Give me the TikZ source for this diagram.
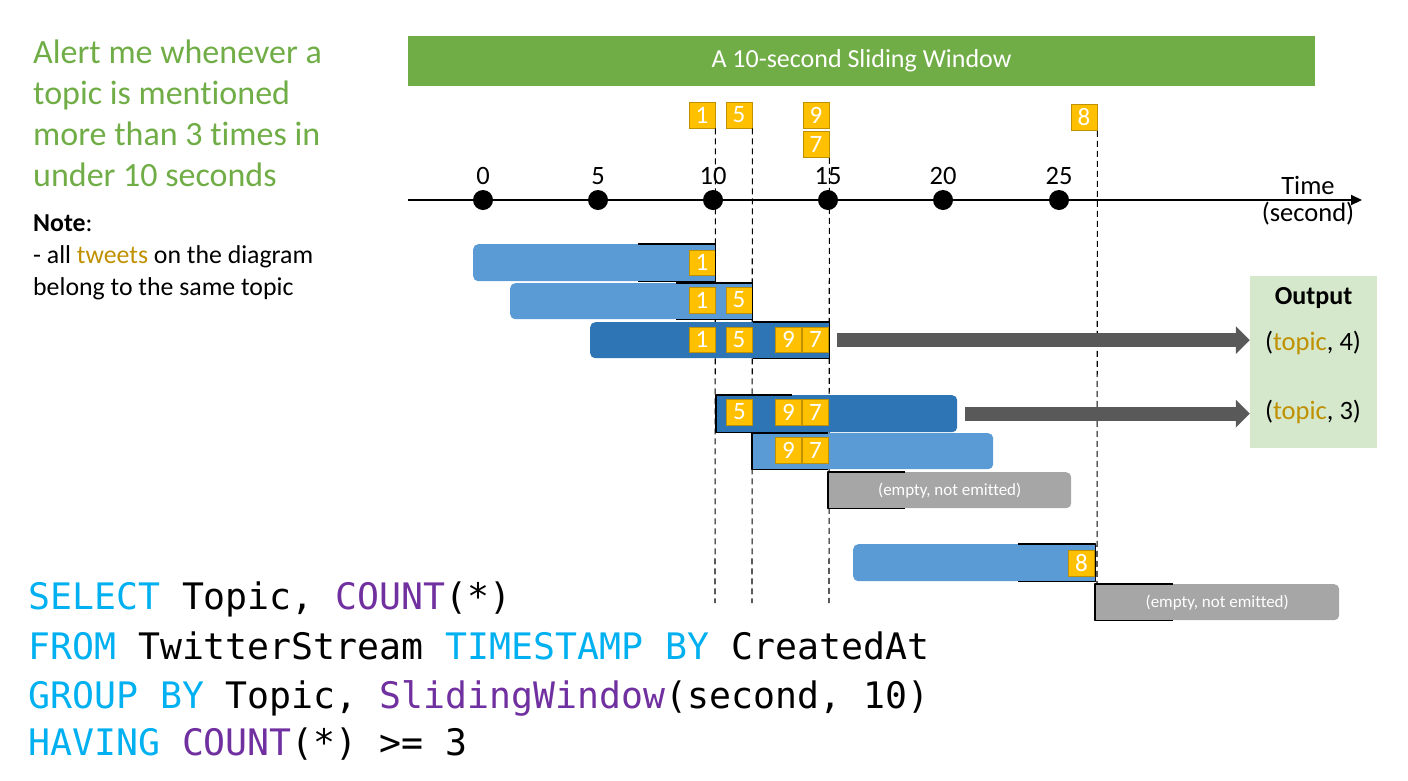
\documentclass[tikz,border=0pt]{standalone}
\usepackage{fontspec}
\setmainfont{Carlito}[Ligatures=NoCommon]
\newfontfamily\codefont{DejaVu Sans Mono}
\usetikzlibrary{arrows.meta}
\definecolor{grn}{HTML}{70AD47}
\definecolor{lb}{HTML}{5B9BD5}
\definecolor{db}{HTML}{2E75B6}
\definecolor{gry}{HTML}{A6A6A6}
\definecolor{ylw}{HTML}{FFC000}
\definecolor{ylwb}{HTML}{BF9000}
\definecolor{gold}{HTML}{BF9000}
\definecolor{arr}{HTML}{595959}
\definecolor{outbg}{HTML}{D6E8CB}
\definecolor{kw}{HTML}{00B0F0}
\definecolor{fn}{HTML}{7030A0}
\tikzset{
  tweet/.style={fill=ylw, draw=ylwb, line width=0.8pt, text=white, minimum size=26pt, inner sep=0pt, font=\fontsize{25}{25}\selectfont},
  win/.style={rounded corners=5pt, minimum height=37pt, inner sep=0pt, anchor=north west},
  brk/.style={draw=black, line width=1.8pt, line join=round},
  vdash/.style={black, line width=1.1pt, dash pattern=on 6pt off 4pt},
  tdot/.style={circle, fill=black, minimum size=20pt, inner sep=0pt},
  ticklab/.style={font=\fontsize{26.5}{26.5}\selectfont},
  emp/.style={text=white, font=\fontsize{17}{17}\selectfont},
  bigarrow/.style={arr, line width=14pt, -{Triangle[length=14pt,width=27pt]}},
  green/.style={text=grn, anchor=base west, inner sep=0pt, font=\fontsize{34}{34}\selectfont},
  note/.style={anchor=base west, inner sep=0pt, font=\fontsize{25.8}{25.8}\selectfont},
  code/.style={anchor=base west, inner sep=0pt, font=\codefont\fontsize{36.5}{36.5}\selectfont},
  outtxt/.style={font=\fontsize{26.5}{26.5}\selectfont, inner sep=0pt}
}
\begin{document}
\begin{tikzpicture}[x=1pt,y=-1pt]
\useasboundingbox (0,0) rectangle (1408,780);

% left texts
\node[green] (g1) at (33,63) {Alert me whenever a};
\node[green] (g2) at (33,104) {topic is mentioned};
\node[green] (g3) at (33,145) {more than 3 times in};
\node[green] (g4) at (33,186.5) {under 10 seconds};
\node[note] (n1) at (33,231.5) {\textbf{Note}:};
\node[note] (n2) at (33,263) {- all \textcolor{gold}{tweets} on the diagram};
\node[note] (n3) at (33,295) {belong to the same topic};

% title bar
\node[fill=grn, minimum width=907pt, minimum height=50pt, text=white, font=\fontsize{26}{26}\selectfont] (title) at (861.5,61) {A 10-second Sliding Window};

% top tweets
\node[tweet] (a1) at (702,115) {1};
\node[tweet] (a5) at (739,115) {5};
\node[tweet] (a9) at (816,115) {9};
\node[tweet] (a7) at (816,144.5) {7};
\node[tweet] (a8) at (1084,117.5) {8};

% dashed lines
\coordinate (d1) at (715,603);
\coordinate (d5) at (752,603);
\coordinate (d7) at (829,603);
\coordinate (d8) at (1097,586);
\draw[vdash] (a1.south east) -- (d1);
\draw[vdash] (a5.south east) -- (d5);
\draw[vdash] (a7.south east) -- (d7);
\draw[vdash] (a8.south east) -- (d8);

% time axis
\coordinate (axL) at (408,200);
\coordinate (axR) at (1362,200);
\draw[line width=2pt, -{Triangle[length=11pt,width=10pt]}] (axL) -- (axR);
\foreach \i/\x in {0/483,5/598,10/713,15/828,20/943,25/1059}{
  \node[tdot] (p\i) at (\x,200) {};
  \node[ticklab] (l\i) at (\x,176) {\i};
}
\node[ticklab] (tl1) at (1308,185) {Time};
\node[ticklab] (tl2) at (1308,214) {(second)};

% windows
\node[win, fill=lb, minimum width=242pt] (w1) at (473,244) {};
\node[win, fill=lb, minimum width=242pt, minimum height=36pt] (w2) at (510,283) {};
\node[win, fill=db, minimum width=239pt, minimum height=36pt] (w3) at (590,322) {};
\node[win, fill=db, minimum width=241pt] (w4) at (716,395) {};
\node[win, fill=lb, minimum width=241pt, minimum height=36pt] (w5) at (752,433) {};
\node[win, fill=gry, minimum width=243pt, minimum height=36pt] (w6) at (828,472) {};
\node[win, fill=lb, minimum width=242pt] (w7) at (853,544) {};
\node[win, fill=gry, minimum width=244pt, minimum height=36pt] (w8) at (1095,584) {};

% square ends under brackets
\fill[lb] ([xshift=-12pt]w1.north east) rectangle (w1.south east);
\fill[lb] ([xshift=-12pt]w2.north east) rectangle (w2.south east);
\fill[db] ([xshift=-12pt]w3.north east) rectangle (w3.south east);
\fill[db] (w4.north west) rectangle ([xshift=12pt]w4.south west);
\fill[lb] (w5.north west) rectangle ([xshift=12pt]w5.south west);
\fill[gry] (w6.north west) rectangle ([xshift=12pt]w6.south west);
\fill[lb] ([xshift=-12pt]w7.north east) rectangle (w7.south east);
\fill[gry] (w8.north west) rectangle ([xshift=12pt]w8.south west);

% tweets in windows
\node[tweet, minimum height=25pt] (b1) at (702,262.5) {1};
\node[tweet] (c1) at (702,300) {1};
\node[tweet] (c5) at (739,300) {5};
\node[tweet, minimum height=25pt] (e1) at (702,339.5) {1};
\node[tweet, minimum height=25pt] (e5) at (739,339.5) {5};
\node[tweet, minimum height=25pt] (e9) at (788.5,339.5) {9};
\node[tweet, minimum height=25pt] (e7) at (815.5,339.5) {7};
\node[tweet] (f5) at (739.5,412) {5};
\node[tweet] (f9) at (788.5,412) {9};
\node[tweet] (f7) at (815.5,412) {7};
\node[tweet] (h9) at (788.5,450) {9};
\node[tweet] (h7) at (815.5,450) {7};
\node[tweet] (k8) at (1081.5,563) {8};

\node[emp] (x6) at (w6.center) {(empty, not emitted)};
\node[emp] (x8) at (w8.center) {(empty, not emitted)};

% brackets
\draw[brk] ([xshift=-77pt]w1.north east) -- (w1.north east) -- (w1.south east) -- ([xshift=-77pt]w1.south east);
\draw[brk] ([xshift=-76pt]w2.north east) -- (w2.north east) -- (w2.south east) -- ([xshift=-76pt]w2.south east);
\draw[brk] ([xshift=-76pt]w3.north east) -- (w3.north east) -- (w3.south east) -- ([xshift=-76pt]w3.south east);
\draw[brk] ([xshift=76pt]w4.north west) -- (w4.north west) -- (w4.south west) -- ([xshift=76pt]w4.south west);
\draw[brk] ([xshift=76pt]w5.north west) -- (w5.north west) -- (w5.south west) -- ([xshift=76pt]w5.south west);
\draw[brk] ([xshift=77pt]w6.north west) -- (w6.north west) -- (w6.south west) -- ([xshift=77pt]w6.south west);
\draw[brk] ([xshift=-77pt]w7.north east) -- (w7.north east) -- (w7.south east) -- ([xshift=-77pt]w7.south east);
\draw[brk] ([xshift=78pt]w8.north west) -- (w8.north west) -- (w8.south west) -- ([xshift=78pt]w8.south west);

% output box
\node[fill=outbg, minimum width=127pt, minimum height=172pt, inner sep=0pt] (out) at (1313.5,362) {};
\node[outtxt, font=\fontsize{26}{26}\selectfont\bfseries] (o0) at (1313.5,298) {Output};
\node[outtxt] (o1) at (1313,343) {(\textcolor{gold}{topic}, 4)};
\node[outtxt] (o2) at (1313,412) {(\textcolor{gold}{topic}, 3)};

% arrows
\draw[bigarrow] ([xshift=8pt]w3.east) -- (w3.east -| out.west);
\draw[bigarrow] ([xshift=8pt]w4.east) -- (w4.east -| out.west);

% query
\node[code] (q1) at (28,609) {\textcolor{kw}{SELECT} Topic, \textcolor{fn}{COUNT}(*)};
\node[code] (q2) at (28,659) {\textcolor{kw}{FROM} TwitterStream \textcolor{kw}{TIMESTAMP BY} CreatedAt};
\node[code] (q3) at (28,708) {\textcolor{kw}{GROUP BY} Topic, \textcolor{fn}{SlidingWindow}(second, 10)};
\node[code] (q4) at (28,755) {\textcolor{kw}{HAVING} \textcolor{fn}{COUNT}(*) >= 3};
\end{tikzpicture}
\end{document}
